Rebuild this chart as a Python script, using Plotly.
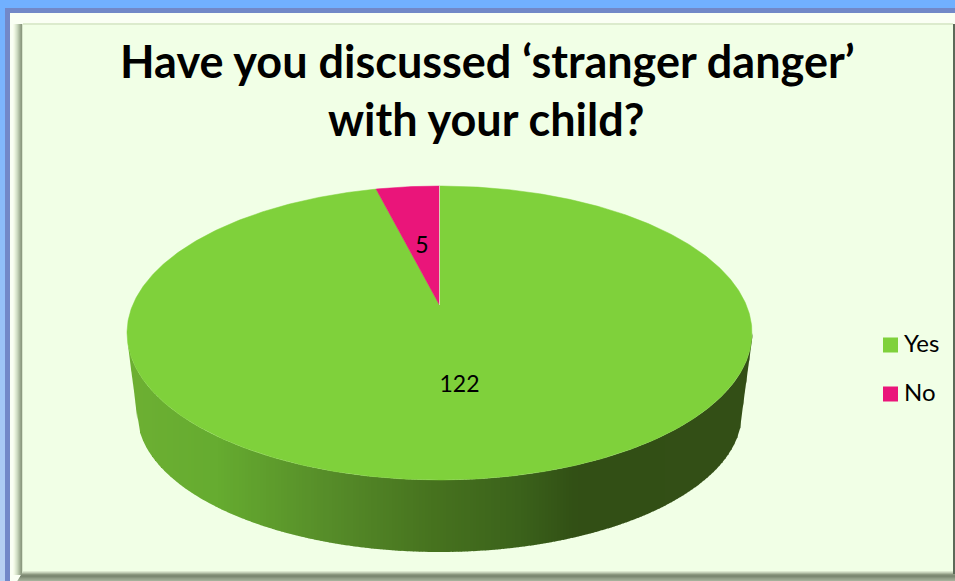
import numpy as np
import plotly.graph_objects as go

# --- data ---
categories = ["Yes", "No"]
values = [122, 5]
slice_colors = ["#7FD13B", "#EA157A"]
title_lines = ["Have you discussed ‘stranger danger’", "with your child?"]

# --- drawing geometry (page pixels) ---
W, H = 955, 581
CX, CY, RX, RY = 439.5, 333.0, 312.5, 147.0
APEX_Y = 305.0
BCX, BCY, BRX, BRY = 439.5, 413.0, 302.5, 139.0
P = (CY - APEX_Y) / RY


def project(deg):
    """Angle clockwise from 12 o'clock on the disc -> tilted screen position."""
    t = np.radians(deg)
    x, y = np.sin(t), np.cos(t)
    w = 1 + P * y
    return CX + RX * x * np.sqrt(1 - P * P) / w, CY - RY * (y + P) / w


def sector(a0, a1):
    a = np.linspace(a0, a1, max(int(abs(a1 - a0) * 2), 3))
    xs, ys = project(a)
    return [CX, *xs, CX], [APEX_Y, *ys, APEX_Y]


def hexmix(stops, x):
    xs = [s[0] for s in stops]
    rgb = [np.interp(x, xs, [int(s[1][i:i + 2], 16) for s in stops]) for i in (1, 3, 5)]
    return "rgb(%d,%d,%d)" % tuple(rgb)


wall_stops = [(128, "#6DB033"), (215, "#66AC30"), (330, "#568C29"), (430, "#47731F"),
              (520, "#3B621B"), (575, "#325015"), (752, "#344F17")]

fig = go.Figure()

# frame
shapes = []


def rect(x0, y0, x1, y1, c):
    shapes.append(dict(type="rect", xref="x", yref="y", x0=x0, y0=y0, x1=x1, y1=y1,
                       fillcolor=c, line_width=0, layer="below"))


rect(0, 0, W, 8, "#71B0FF")
for i in range(0, 581, 20):
    rect(0, max(i, 8), 5, i + 20, hexmix([(0, "#71B0FF"), (581, "#BAD2F2")], i))
rect(5, 8, W, 13, "#7288C8")
rect(5, 8, 10, H, "#7288C8")
rect(10, 13, W, H, "#FAFFF4")
rect(13, 24, 953, 571, "#F1FFE6")
for i, c in enumerate(["#F6FCEC", "#EEF6E2", "#E2ECD6", "#D6E2CA", "#C8D6BC", "#B8C6AC", "#A8B69C", "#98A68C", "#8C9A80", "#D8E6CC"]):
    rect(13 + i, 24, 14 + i, 575, c)
rect(23, 23, 953, 25, "#DCEBCD")
for i, c in enumerate(["#DCE8D0", "#C4D0B8", "#A8B49C", "#8C9880", "#7E8A74", "#7C8872", "#86927C", "#929E88", "#9AA690", "#A4B09A"]):
    rect(23 - i * 0.6, 571 + i, 955, 572 + i, c)
rect(953, 24, 955, 574, "#5C6A58")

# side wall of the pie
edge = np.arange(128, 752, 3.0)
for x0 in edge:
    x1 = x0 + 3.4
    xs = np.array([x0, x1])
    top = CY + RY * np.sqrt(np.clip(1 - ((xs - CX) / RX) ** 2, 0, 1))
    bot = BCY + BRY * np.sqrt(np.clip(1 - ((xs - BCX) / BRX) ** 2, 0, 1))
    left = xs < BCX - BRX
    right = xs > BCX + BRX
    bot = np.where(left, 347 + (xs - 128) * (BCY - 347) / (BCX - BRX - 128), bot)
    bot = np.where(right, 347 + (751 - xs) * (BCY - 347) / (751 - BCX - BRX), bot)
    fig.add_trace(go.Scatter(x=[x0, x1, x1, x0, x0], y=[top[0], top[1], bot[1], bot[0], top[0]],
                             mode="lines", fill="toself", line_width=0,
                             fillcolor=hexmix(wall_stops, x0), hoverinfo="skip", showlegend=False))

# top face slices: "No" ends at 12 o'clock, "Yes" runs clockwise from there
total = sum(values)
sweep = [v / total * 360 for v in values]
start = 0.0
for name, v, s, c in zip(categories, values, sweep, slice_colors):
    x, y = sector(start, start + s)
    fig.add_trace(go.Scatter(x=x, y=y, mode="lines", fill="toself", line=dict(width=0.5, color=c),
                             fillcolor=c, name=name, text=[str(v)] * len(x),
                             hoverinfo="name+text", showlegend=False))
    start += s
sx, sy = project(0)
fig.add_trace(go.Scatter(x=[CX, float(sx)], y=[APEX_Y, float(sy)], mode="lines",
                         line=dict(width=0.8, color="#DCEFC8"), hoverinfo="skip", showlegend=False))

# data labels
fig.add_trace(go.Scatter(x=[459.5, 422], y=[386, 247], mode="text", text=[str(v) for v in values],
                         textposition="middle center", textfont=dict(family="Lato", size=23, color="#000000"),
                         hoverinfo="skip", showlegend=False))

# legend
fig.add_trace(go.Scatter(x=[890.5, 890.5], y=[345, 394], mode="markers",
                         marker=dict(symbol="square", size=15, color=slice_colors, line_width=0),
                         hoverinfo="skip", showlegend=False))
fig.add_trace(go.Scatter(x=[904, 904], y=[346, 395], mode="text", text=categories,
                         textposition="middle right", textfont=dict(family="Lato", size=24, color="#000000"),
                         hoverinfo="skip", showlegend=False))

# title
fig.add_annotation(x=487, y=61, xref="x", yref="y", text=title_lines[0], showarrow=False,
                   font=dict(family="Lato", size=45, color="#000000", weight="bold"))
fig.add_annotation(x=486, y=119, xref="x", yref="y", text=title_lines[1], showarrow=False,
                   font=dict(family="Lato", size=45, color="#000000", weight="bold"))

fig.update_layout(width=W, height=H, margin=dict(l=0, r=0, t=0, b=0),
                  paper_bgcolor="#F1FFE6", plot_bgcolor="#F1FFE6", shapes=shapes, showlegend=False,
                  xaxis=dict(range=[0, W], visible=False, fixedrange=True),
                  yaxis=dict(range=[H, 0], visible=False, fixedrange=True))
fig.write_html("out.html", config=dict(displayModeBar=False),
               post_script="document.body.style.margin='0';document.documentElement.style.overflow='hidden';")
